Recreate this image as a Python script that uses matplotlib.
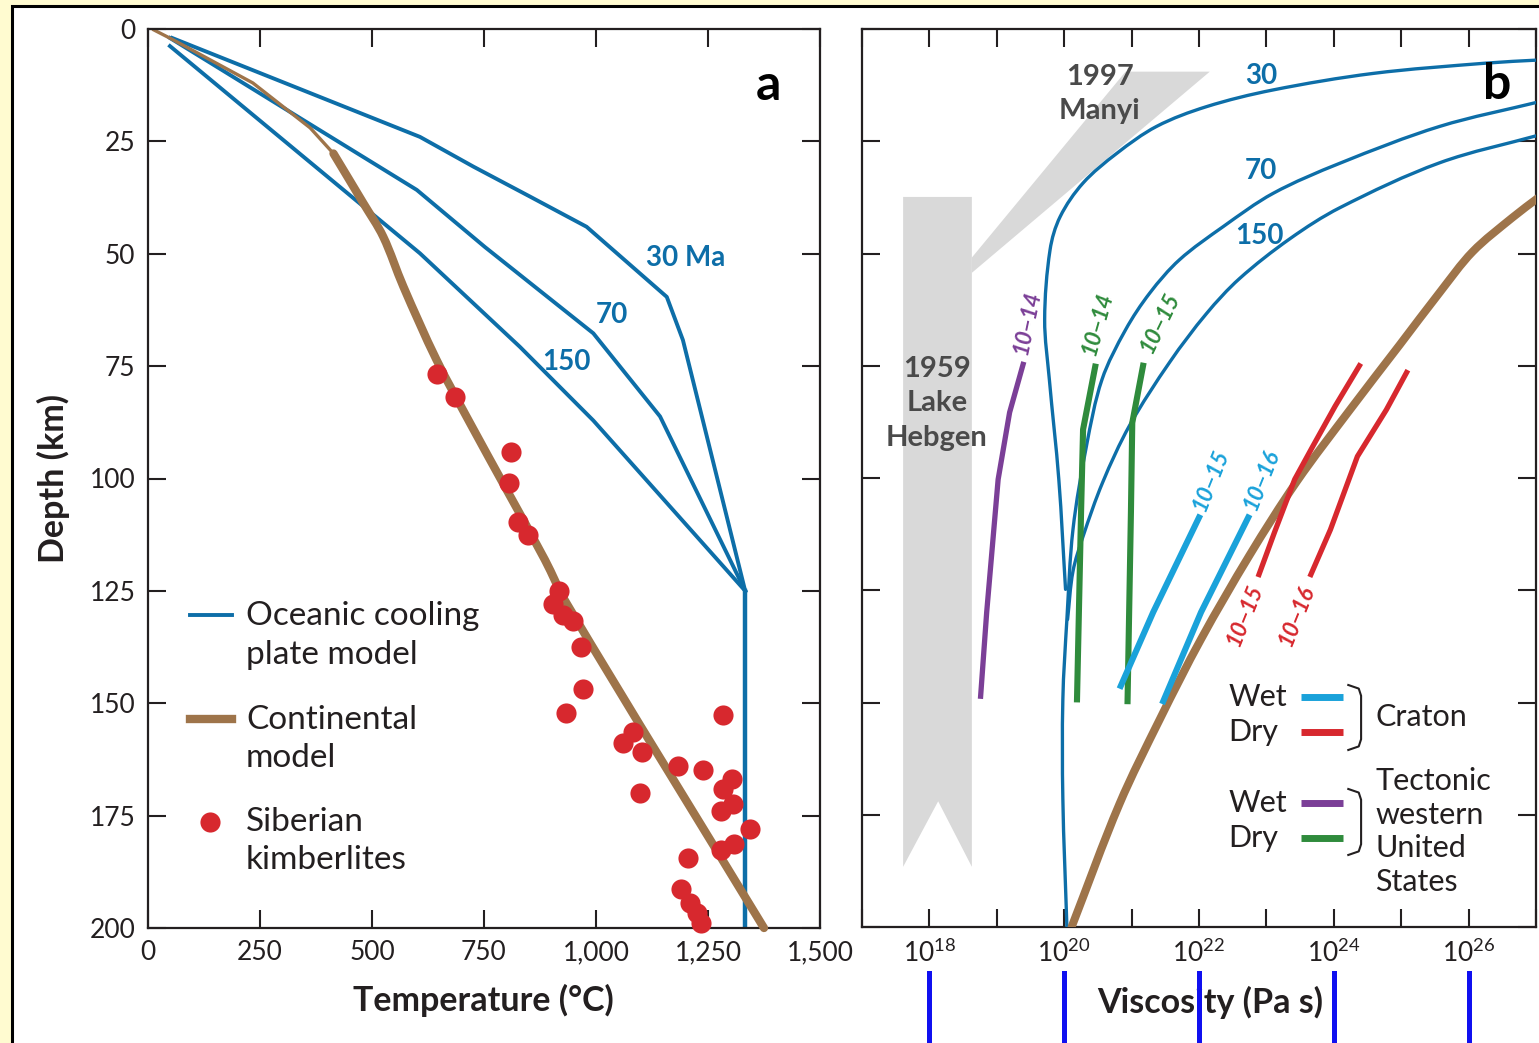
import numpy as np
import matplotlib
matplotlib.use('Agg')
import matplotlib.pyplot as plt
from matplotlib.patches import Rectangle, PathPatch
from matplotlib.path import Path
from matplotlib.ticker import NullLocator
from matplotlib.transforms import blended_transform_factory

# ---------------- data: panel a (temperature, degC vs depth, km) ----------------
temp_ticks = [0, 250, 500, 750, 1000, 1250, 1500]
temp_tick_labels = ['0', '250', '500', '750', '1,000', '1,250', '1,500']
depth_ticks = [0, 25, 50, 75, 100, 125, 150, 175, 200]

ocean30_T = [54, 607, 726, 853, 979, 1158, 1194, 1333]
ocean30_z = [2.0, 24.0, 30.6, 37.3, 44.0, 59.6, 69.2, 125]
ocean70_T = [49, 600, 752, 994, 1143, 1333]
ocean70_z = [2.0, 35.8, 48.5, 67.7, 86.2, 125]
ocean150_T = [49, 607, 830, 904, 994, 1333]
ocean150_z = [3.8, 49.9, 70.7, 78.1, 87.1, 125]
adiabat_T = [1333, 1333]
adiabat_z = [125, 200]

cont_thin_T = [13, 56, 234, 362, 414]
cont_thin_z = [0.2, 2.4, 12.0, 22.0, 27.7]
cont_T = [414, 481, 525, 570, 644, 719, 801, 886, 935, 1375]
cont_z = [27.7, 38.8, 46.2, 57.3, 73.6, 87.7, 102.6, 118.1, 127.9, 200]

kimb_T = [645, 685, 810, 806, 826, 848, 917, 904, 926, 949, 967, 971, 933, 1283,
          1083, 1060, 1103, 1183, 1239, 1304, 1283, 1098, 1306, 1279, 1344, 1308,
          1279, 1205, 1190, 1210, 1225, 1234]
kimb_z = [76.8, 81.9, 94.1, 101.0, 109.7, 112.6, 125.0, 127.9, 130.4, 131.7, 137.5,
          146.8, 152.2, 152.6, 156.4, 158.8, 160.8, 164.0, 164.8, 166.9, 169.1, 170.0,
          172.4, 174.0, 178.0, 181.3, 182.6, 184.4, 191.3, 194.4, 196.7, 198.9]

# ---------------- data: panel b (log10 viscosity, Pa s vs depth, km) ----------------
visc_exponents = list(range(17, 28))

b30_log = [27.05, 26.26, 24.58, 23.09, 22.11, 21.37, 20.78, 20.28, 19.94, 19.79, 19.71,
           19.78, 19.92, 20.02]
b30_z = [6.9, 7.6, 9.9, 13.6, 17.3, 21.7, 27.7, 34.3, 41.8, 49.2, 64.7, 78.1, 100.3, 124.8]
b70_log = [27.05, 25.57, 24.09, 23.10, 22.36, 21.71, 21.27, 20.91, 20.56, 20.33, 20.13,
           20.04, 19.98, 19.98, 20.04]
b70_z = [16.2, 21.7, 29.9, 36.6, 44.0, 51.4, 58.8, 67.0, 78.1, 92.9, 111.5, 131.5, 149.3,
         171.5, 200]
b150_log = [27.05, 25.57, 24.09, 23.35, 22.60, 22.11, 21.57, 20.97, 20.57, 20.28, 20.13, 20.05]
b150_z = [23.6, 29.8, 39.8, 46.7, 55.6, 63.4, 74.1, 88.3, 101.0, 113.0, 120.8, 131.5]

bcont_log = [27.05, 26.65, 26.06, 25.57, 24.98, 24.24, 23.45, 22.75, 22.03, 21.42, 20.82, 20.11]
bcont_z = [37.4, 42.0, 49.6, 58.7, 70.3, 84.8, 100.8, 117.2, 135.9, 153.7, 172.6, 200]

wet_tect_log = [19.39, 19.19, 19.02, 18.85, 18.76]
wet_tect_z = [74.7, 85.4, 100.3, 129.9, 148.6]
dry_tect14_log = [20.46, 20.28, 20.25, 20.19]
dry_tect14_z = [75.2, 89.2, 107.7, 149.3]
dry_tect15_log = [21.17, 21.01, 20.99, 20.94]
dry_tect15_z = [75.0, 87.7, 107.7, 149.7]
wet_crat15_log = [22.00, 21.32, 20.84]
wet_crat15_z = [108.8, 129.9, 146.3]
wet_crat16_log = [22.73, 22.03, 21.47]
wet_crat16_z = [108.8, 129.9, 149.7]
dry_crat15_log = [24.38, 24.02, 23.69, 23.42, 23.12, 22.89]
dry_crat15_z = [75.0, 84.0, 92.9, 100.3, 112.1, 121.5]
dry_crat16_log = [25.08, 24.78, 24.35, 23.95, 23.66]
dry_crat16_z = [76.5, 84.8, 95.2, 111.5, 121.5]

hebgen_log = [17.61, 18.63, 18.63, 18.13, 17.61]
hebgen_z = [37.4, 37.4, 186.6, 172.0, 186.6]
manyi_log = [20.91, 22.16, 18.63, 18.63]
manyi_z = [9.5, 9.5, 54.3, 50.9]

# ---------------- style ----------------
OCEAN = '#0d6ea8'
CONT = '#9e744a'
RED = '#d7282e'
PURPLE = '#7b3f97'
GREEN = '#2f8b3c'
CYAN = '#1aa2da'
GRAY = '#d9d9d9'
DARKGRAY = '#4a4a4a'
INK = '#231f20'

plt.rcParams['font.family'] = ['Lato', 'DejaVu Sans']
plt.rcParams['mathtext.fontset'] = 'custom'
plt.rcParams['mathtext.rm'] = 'Lato'
plt.rcParams['mathtext.default'] = 'regular'


def smooth_line(ax, xs, ys, scale, logx=False, **kw):
    # smooth Bezier curve through the read points; tangents follow the neighbours,
    # handle lengths follow the segment length (measured in screen-like units)
    s = np.asarray(scale, float)
    q = np.column_stack([xs, ys]).astype(float) * s
    n = len(q)
    tang = np.zeros_like(q)
    for i in range(n):
        d = q[min(i + 1, n - 1)] - q[max(i - 1, 0)]
        tang[i] = d / np.hypot(*d)
    verts = [q[0]]
    codes = [Path.MOVETO]
    for i in range(n - 1):
        L = np.hypot(*(q[i + 1] - q[i]))
        verts += [q[i] + tang[i] * L / 3, q[i + 1] - tang[i + 1] * L / 3, q[i + 1]]
        codes += [Path.CURVE4] * 3
    verts = np.array(verts) / s
    if logx:
        verts[:, 0] = 10.0 ** verts[:, 0]
    ax.add_patch(PathPatch(Path(verts, codes), fill=False, capstyle='round', **kw))


W, H = 1539, 1043
fig = plt.figure(figsize=(W / 100, H / 100), dpi=100)
fig.patch.set_facecolor('#fffbd0')
fig.patches.append(Rectangle((12 / W, -0.05), 1.2, 1 - 6 / H + 0.05, transform=fig.transFigure,
                             facecolor='white', edgecolor='black', lw=2.2, zorder=-5))

ax_a = fig.add_axes([148 / W, 1 - 928 / H, (820 - 148) / W, (928 - 29) / H])
ax_b = fig.add_axes([862 / W, 1 - 927 / H, (1536 - 862) / W, (927 - 29) / H])

for ax in (ax_a, ax_b):
    ax.tick_params(direction='in', length=13, width=1.5, top=True, right=True,
                   labelsize=19, pad=9, color=INK, labelcolor=INK)
    for s in ax.spines.values():
        s.set_linewidth(1.6)
        s.set_color(INK)

SCALE_A = (0.448, 4.495)    # px per degC, px per km
SCALE_B = (67.44, 4.495)    # px per decade, px per km

# ---------------- panel a ----------------
ax_a.plot(ocean30_T, ocean30_z, color=OCEAN, lw=2.8, solid_joinstyle='round')
ax_a.plot(ocean70_T, ocean70_z, color=OCEAN, lw=2.8, solid_joinstyle='round')
ax_a.plot(ocean150_T, ocean150_z, color=OCEAN, lw=2.8, solid_joinstyle='round')
ax_a.plot(adiabat_T, adiabat_z, color=OCEAN, lw=3.2)
ax_a.plot(cont_thin_T, cont_thin_z, color=CONT, lw=2.4)
smooth_line(ax_a, cont_T, cont_z, SCALE_A, edgecolor=CONT, lw=6.0, zorder=3, clip_on=False)
ax_a.scatter(kimb_T, kimb_z, s=210, color=RED, lw=0, zorder=4, clip_on=False)

ax_a.set_xlim(0, 1500)
ax_a.set_ylim(200, 0)
ax_a.set_xticks(temp_ticks)
ax_a.set_xticklabels(temp_tick_labels)
ax_a.set_yticks(depth_ticks)
ax_a.set_xlabel('Temperature (°C)', fontsize=24.5, fontweight='bold', color=INK)
ax_a.xaxis.set_label_coords(0.4985, -0.062)
ax_a.set_ylabel('Depth (km)', fontsize=24.5, fontweight='bold', color=INK)
ax_a.yaxis.set_label_coords(-0.116, 0.5)

ax_a.text(1201, 50.9, '30 Ma', color=OCEAN, fontsize=20, fontweight='bold', ha='center', va='center')
ax_a.text(1036, 63.6, '70', color=OCEAN, fontsize=20, fontweight='bold', ha='center', va='center')
ax_a.text(933, 74.1, '150', color=OCEAN, fontsize=20, fontweight='bold', ha='center', va='center')
ax_a.text(1384, 12.5, 'a', color='black', fontsize=36, fontweight='bold', ha='center', va='center')

# legend of panel a
ta = ax_a.transAxes
ax_a.plot([0.0625, 0.125], [0.3482, 0.3482], color=OCEAN, lw=2.8, transform=ta)
ax_a.plot([0.0625, 0.125], [0.2325, 0.2325], color=CONT, lw=6.0, transform=ta)
ax_a.scatter([0.0923], [0.1179], s=210, color=RED, lw=0, transform=ta)
for y, label in [(0.3254, 'Oceanic cooling\nplate model'),
                 (0.2102, 'Continental\nmodel'),
                 (0.0968, 'Siberian\nkimberlites')]:
    ax_a.text(0.1458, y, label, transform=ta, fontsize=24, color=INK, ha='left', va='center',
              linespacing=1.36)

# ---------------- panel b ----------------
def v(logs):
    return 10.0 ** np.asarray(logs)

ax_b.fill(v(hebgen_log), hebgen_z, color=GRAY, lw=0, zorder=1)
ax_b.fill(v(manyi_log), manyi_z, color=GRAY, lw=0, zorder=1)

smooth_line(ax_b, b30_log, b30_z, SCALE_B, logx=True, edgecolor=OCEAN, lw=2.4, zorder=3)
smooth_line(ax_b, b70_log, b70_z, SCALE_B, logx=True, edgecolor=OCEAN, lw=2.4, zorder=3)
smooth_line(ax_b, b150_log, b150_z, SCALE_B, logx=True, edgecolor=OCEAN, lw=2.4, zorder=3)
smooth_line(ax_b, bcont_log, bcont_z, SCALE_B, logx=True, edgecolor=CONT, lw=5.8, zorder=3)

ax_b.plot(v(wet_tect_log), wet_tect_z, color=PURPLE, lw=3.8, zorder=4)
ax_b.plot(v(dry_tect14_log), dry_tect14_z, color=GREEN, lw=4.4, zorder=4)
ax_b.plot(v(dry_tect15_log), dry_tect15_z, color=GREEN, lw=4.4, zorder=4)
ax_b.plot(v(wet_crat15_log), wet_crat15_z, color=CYAN, lw=4.4, zorder=4)
ax_b.plot(v(wet_crat16_log), wet_crat16_z, color=CYAN, lw=4.4, zorder=4)
ax_b.plot(v(dry_crat15_log), dry_crat15_z, color=RED, lw=3.8, zorder=4)
ax_b.plot(v(dry_crat16_log), dry_crat16_z, color=RED, lw=3.8, zorder=4)

for lx, lz, txt, col, rot in [
        (19.45, 65.2, '10−14', PURPLE, 78),
        (20.50, 65.6, '10−14', GREEN, 74),
        (21.42, 65.4, '10−15', GREEN, 64),
        (22.18, 100.3, '10−15', CYAN, 68),
        (22.93, 100.3, '10−16', CYAN, 68),
        (22.68, 130.4, '10−15', RED, 68),
        (23.45, 130.6, '10−16', RED, 68)]:
    ax_b.text(10 ** lx, lz, txt, color=col, fontsize=16, fontweight='bold', style='italic',
              rotation=rot, ha='center', va='center', zorder=5)

ax_b.text(10 ** 22.92, 10.5, '30', color=OCEAN, fontsize=20, fontweight='bold', ha='center', va='center')
ax_b.text(10 ** 22.92, 31.6, '70', color=OCEAN, fontsize=20, fontweight='bold', ha='center', va='center')
ax_b.text(10 ** 22.90, 46.1, '150', color=OCEAN, fontsize=20, fontweight='bold', ha='center', va='center')
ax_b.text(10 ** 20.53, 14.4, '1997\nManyi', color=DARKGRAY, fontsize=21, fontweight='bold',
          ha='center', va='center', linespacing=1.38, zorder=2)
ax_b.text(10 ** 18.11, 83.4, '1959\nLake\nHebgen', color=DARKGRAY, fontsize=21, fontweight='bold',
          ha='center', va='center', linespacing=1.4, zorder=2)
ax_b.text(10 ** 26.42, 12.4, 'b', color='black', fontsize=36, fontweight='bold', ha='center',
          va='center', zorder=6)

ax_b.set_xscale('log')
ax_b.set_xlim(1e17, 1e27)
ax_b.set_ylim(200, 0)
ax_b.set_xticks([10.0 ** e for e in visc_exponents])
ax_b.set_xticklabels(['$10^{%d}$' % e if (e % 2 == 0 and 18 <= e <= 26) else ''
                      for e in visc_exponents])
ax_b.xaxis.set_minor_locator(NullLocator())
ax_b.set_yticks(depth_ticks)
ax_b.set_yticklabels([])
ax_b.set_xlabel('Viscosity (Pa s)', fontsize=24.5, fontweight='bold', color=INK)
ax_b.xaxis.set_label_coords(0.516, -0.066)

# legend of panel b
tb = ax_b.transAxes
legend_rows = [(0.2561, 'Wet', CYAN), (0.2171, 'Dry', RED),
               (0.1381, 'Wet', PURPLE), (0.0991, 'Dry', GREEN)]
for y, word, col in legend_rows:
    ax_b.text(0.5437, y, word, transform=tb, fontsize=22, color=INK, ha='left', va='center')
    ax_b.plot([0.6519, 0.7141], [y, y], color=col, lw=5, transform=tb, solid_capstyle='butt')
for top, bot in [(0.2695, 0.1971), (0.1537, 0.0802)]:
    ax_b.plot([0.7215, 0.737, 0.7405, 0.7405, 0.737, 0.7215],
              [top, top - 0.004, top - 0.012, bot + 0.012, bot + 0.004, bot],
              color=INK, lw=1.5, transform=tb)
ax_b.text(0.7615, 0.2339, 'Craton', transform=tb, fontsize=22, color=INK, ha='left', va='center')
ax_b.text(0.7615, 0.1063, 'Tectonic\nwestern\nUnited\nStates', transform=tb, fontsize=22,
          color=INK, ha='left', va='center', linespacing=1.24)

# blue marks below the viscosity axis
bt = blended_transform_factory(ax_b.transData, fig.transFigure)
for e in visc_exponents:
    if e % 2 == 0 and 18 <= e <= 26:
        fig.lines.append(plt.Line2D([10.0 ** e, 10.0 ** e], [0, 1 - 973 / H], transform=bt,
                                    color='#1010f0', lw=3.6, zorder=10))

fig.savefig('out.png', dpi=100, facecolor=fig.get_facecolor())
